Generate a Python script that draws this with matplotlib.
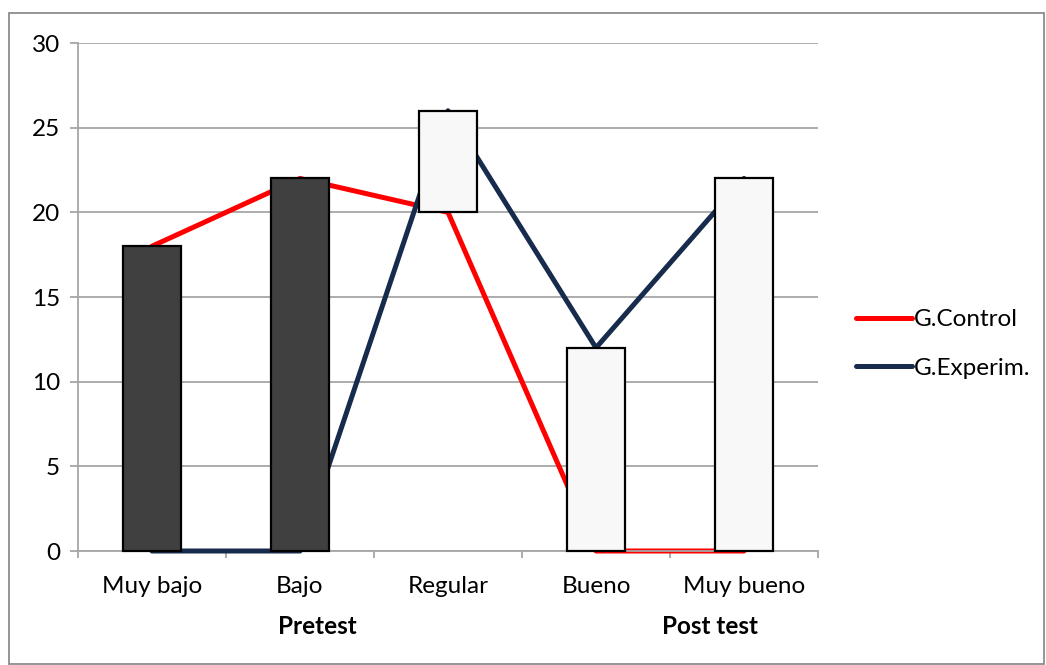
import matplotlib

matplotlib.use("Agg")
import matplotlib.pyplot as plt
import numpy as np
from matplotlib.patches import Rectangle

plt.rcParams["font.family"] = ["Lato", "DejaVu Sans"]

categories = ["Muy bajo", "Bajo", "Regular", "Bueno", "Muy bueno"]
control = [18, 22, 20, 0, 0]
experim = [0, 0, 26, 12, 22]
series_names = ["G.Control", "G.Experim."]
group_labels = ["Pretest", "Post test"]

RED = "#FF0000"
NAVY = "#172B4D"
DOWN = "#404040"
UP = "#F8F8F8"
GRID = "#A6A6A6"
FS = 17.5

fig = plt.figure(figsize=(10.46, 6.65), dpi=100)
ax = fig.add_axes([78 / 1046, 1 - 551 / 665, 740 / 1046, 508 / 665])

x = np.arange(len(categories))
l1, = ax.plot(x, control, color=RED, lw=3.6, solid_capstyle="round", zorder=2, clip_on=False)
l2, = ax.plot(x, experim, color=NAVY, lw=3.6, solid_capstyle="round", zorder=3, clip_on=False)

# up/down bars between the two series
c = np.array(control)
e = np.array(experim)
bottoms = np.minimum(c, e)
heights = np.abs(e - c)
colors = [UP if ev > cv else DOWN for cv, ev in zip(c, e)]
ax.bar(x, heights, bottom=bottoms, width=0.39, color=colors, edgecolor="black",
       linewidth=1.6, zorder=4, clip_on=False)

ax.set_xlim(-0.5, len(categories) - 0.5)
ax.set_ylim(0, 30)
ax.set_yticks(range(0, 31, 5))
ax.yaxis.grid(True, color=GRID, lw=1.3)
ax.set_axisbelow(True)
ax.tick_params(axis="y", length=6, width=1.3, color=GRID, pad=7, labelsize=FS)

ax.set_xticks(np.arange(len(categories) + 1) - 0.5)
ax.set_xticklabels([])
ax.tick_params(axis="x", which="major", length=5, width=1.3, color=GRID)
ax.set_xticks(x, minor=True)
ax.set_xticklabels(categories, minor=True)
ax.tick_params(axis="x", which="minor", length=0, pad=18, labelsize=FS)

for s in ["top", "right"]:
    ax.spines[s].set_visible(False)
for s in ["left", "bottom"]:
    ax.spines[s].set_color(GRID)
    ax.spines[s].set_linewidth(1.3)

fig.text(317 / 1046, 1 - 627 / 665, group_labels[0], ha="center", va="center",
         fontsize=FS, fontweight="bold")
fig.text(710 / 1046, 1 - 627 / 665, group_labels[1], ha="center", va="center",
         fontsize=FS, fontweight="bold")

fig.legend([l1, l2], series_names, loc="center left",
           bbox_to_anchor=(834 / 1046, 1 - 344 / 665), frameon=False, fontsize=FS,
           handlelength=2.3, handletextpad=0.1, labelspacing=1.15)

fig.add_artist(Rectangle((9 / 1046, 1 - 664 / 665), 1035 / 1046, 651 / 665,
                         transform=fig.transFigure, fill=False, edgecolor="#8C8C8C", lw=1.3))

fig.savefig("out.png", dpi=100)
